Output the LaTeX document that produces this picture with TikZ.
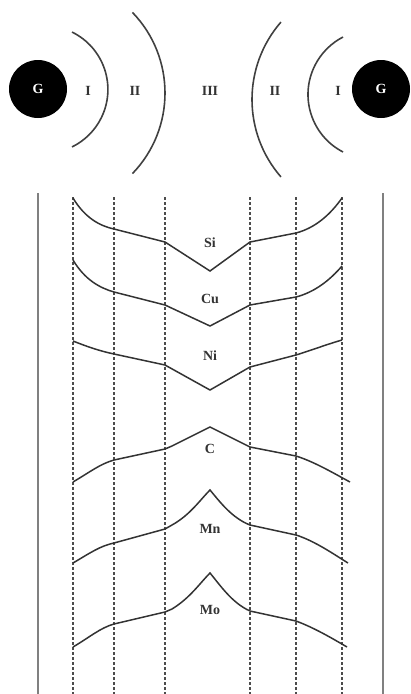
\documentclass[tikz,border=0pt]{standalone}
\usepackage{fontspec}
\setmainfont{Liberation Serif}
\begin{document}
\begin{tikzpicture}[x=1pt,y=-1pt,
  lbl/.style={font=\bfseries\fontsize{14}{16}\selectfont, text=black!80, inner sep=1pt},
  gball/.style={circle, fill=black, minimum size=58pt, inner sep=0pt, text=white, font=\bfseries\fontsize{14}{16}\selectfont},
  zonearc/.style={draw=black!75, line width=1.6pt},
  wall/.style={draw=black!50, line width=2pt},
  grid/.style={draw=black!70, line width=1.4pt, dash pattern=on 3pt off 2pt},
  prof/.style={draw=black!80, line width=1.5pt, line join=miter}]
\useasboundingbox (0,0) rectangle (410,694);
% top: grains and zones
\node[gball] (gl) at (38,89) {G};
\node[gball] (gr) at (381,89) {G};
\node[lbl] (z1l) at (88,91) {I};
\node[lbl] (z2l) at (135,91) {II};
\node[lbl] (z3) at (210,91) {III};
\node[lbl] (z2r) at (275,91) {II};
\node[lbl] (z1r) at (338,91) {I};
\draw[zonearc] (44,89.5) ++(-64:63.9) arc[start angle=-64, end angle=64, radius=63.9];
\draw[zonearc] (49,93) ++(-44:116) arc[start angle=-44, end angle=44, radius=116];
\draw[zonearc] (370,99.5) ++(139:118) arc[start angle=139, end angle=221, radius=118];
\draw[zonearc] (372.7,94.5) ++(117.3:64.7) arc[start angle=117.3, end angle=242.7, radius=64.7];
% walls and dashed boundaries
\draw[wall] (38,193) -- (38,694);
\draw[wall] (383,193) -- (383,694);
\foreach \x in {73,114,165,250,296,342} \draw[grid] (\x,197) -- (\x,694);
% profiles
\draw[prof] (73,198) .. controls (85,218) and (100,226) .. (114,229) -- (165,242) -- (210,271) -- (250,242) -- (296,233) .. controls (315,228) and (330,215) .. (342,198);
\draw[prof] (73,260) .. controls (85,280) and (100,288) .. (114,292) -- (165,305) -- (210,326) -- (250,305) -- (296,297) .. controls (315,292) and (330,280) .. (342,266);
\draw[prof] (73,341) .. controls (88,347) and (100,351) .. (114,354) -- (165,365) -- (210,390) -- (250,367) -- (296,355) .. controls (312,350) and (328,344) .. (342,340);
\draw[prof] (73,482) .. controls (90,472) and (100,464) .. (114,460) -- (165,449) -- (172,446) -- (210,427) -- (250,447) -- (296,456) .. controls (315,462) and (335,474) .. (350,482);
\draw[prof] (73,563) .. controls (90,553) and (100,546) .. (114,543) -- (165,529) -- (172,525) .. controls (190,515) and (200,500) .. (210,490) .. controls (220,502) and (232,518) .. (250,525) -- (296,535) .. controls (315,541) and (335,555) .. (348,563);
\draw[prof] (73,647) .. controls (90,637) and (100,628) .. (114,624) -- (165,612) -- (172,609) .. controls (190,598) and (200,583) .. (210,573) .. controls (220,585) and (232,603) .. (250,611) -- (296,621) .. controls (315,628) and (335,640) .. (347,647);
% element labels
\node[lbl] (si) at (210,243) {Si};
\node[lbl] (cu) at (210,299) {Cu};
\node[lbl] (ni) at (210,356) {Ni};
\node[lbl] (c) at (210,449) {C};
\node[lbl] (mn) at (210,529) {Mn};
\node[lbl] (mo) at (210,610) {Mo};
\end{tikzpicture}
\end{document}
